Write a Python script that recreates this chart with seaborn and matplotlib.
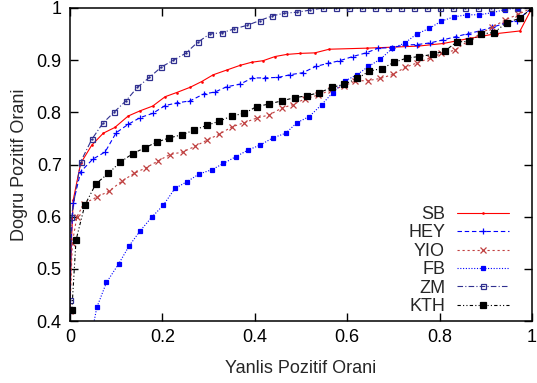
import numpy as np
import pandas as pd
import seaborn as sns
import matplotlib
matplotlib.use("Agg")
import matplotlib.pyplot as plt

sns.set_style("ticks")
plt.rcParams['font.family'] = ['Liberation Sans', 'DejaVu Sans']

# ROC points (false positive rate, true positive rate)
sb_x = [0.0, 0.003, 0.007, 0.023, 0.047, 0.072, 0.097, 0.126, 0.152, 0.179, 0.206, 0.231,
        0.260, 0.285, 0.310, 0.339, 0.368, 0.393, 0.418, 0.444, 0.469, 0.498, 0.530, 0.561,
        0.642, 0.700, 0.754, 0.808, 0.866, 0.924, 0.974, 1.0]
sb_y = [0.42, 0.55, 0.632, 0.702, 0.737, 0.760, 0.771, 0.793, 0.803, 0.812, 0.830, 0.838,
        0.848, 0.859, 0.872, 0.881, 0.890, 0.896, 0.899, 0.907, 0.911, 0.913, 0.914, 0.921,
        0.923, 0.925, 0.927, 0.932, 0.942, 0.951, 0.956, 1.0]

hey_x = [0.0, 0.002, 0.007, 0.023, 0.049, 0.076, 0.100, 0.126, 0.152, 0.179, 0.206, 0.231,
         0.260, 0.289, 0.314, 0.339, 0.368, 0.395, 0.422, 0.451, 0.476, 0.504, 0.532, 0.559,
         0.584, 0.612, 0.641, 0.667, 0.696, 0.725, 0.752, 0.779, 0.808, 0.835, 0.862, 0.887,
         0.914, 0.942, 0.967, 1.0]
hey_y = [0.42, 0.55, 0.626, 0.686, 0.710, 0.724, 0.761, 0.777, 0.790, 0.798, 0.813, 0.818,
         0.822, 0.835, 0.839, 0.849, 0.854, 0.866, 0.866, 0.867, 0.872, 0.876, 0.888, 0.894,
         0.899, 0.907, 0.914, 0.923, 0.924, 0.929, 0.930, 0.933, 0.939, 0.945, 0.951, 0.956,
         0.963, 0.971, 0.976, 1.0]

yio_x = [0.0, 0.005, 0.015, 0.030, 0.059, 0.085, 0.112, 0.139, 0.165, 0.191, 0.216, 0.244,
         0.271, 0.297, 0.323, 0.350, 0.377, 0.404, 0.431, 0.458, 0.483, 0.509, 0.537, 0.566,
         0.592, 0.617, 0.646, 0.672, 0.700, 0.725, 0.752, 0.779, 0.804, 0.833, 0.862, 0.887,
         0.913, 0.942, 0.970, 1.0]
yio_y = [0.42, 0.55, 0.60, 0.625, 0.638, 0.649, 0.668, 0.683, 0.694, 0.707, 0.719, 0.724,
         0.735, 0.747, 0.758, 0.772, 0.780, 0.789, 0.795, 0.808, 0.815, 0.826, 0.833, 0.843,
         0.850, 0.860, 0.861, 0.865, 0.873, 0.886, 0.895, 0.904, 0.913, 0.919, 0.937, 0.950,
         0.963, 0.977, 0.988, 1.0]

fb_x = [0.048, 0.058, 0.079, 0.105, 0.128, 0.152, 0.177, 0.202, 0.227, 0.253, 0.280, 0.307,
        0.332, 0.359, 0.386, 0.411, 0.439, 0.467, 0.491, 0.518, 0.545, 0.569, 0.595, 0.621,
        0.646, 0.672, 0.698, 0.725, 0.750, 0.778, 0.804, 0.831, 0.859, 0.886, 0.914, 0.942,
        0.970, 1.0]
fb_y = [0.38, 0.426, 0.474, 0.509, 0.544, 0.573, 0.599, 0.622, 0.654, 0.667, 0.682, 0.690,
        0.702, 0.715, 0.728, 0.737, 0.751, 0.760, 0.780, 0.792, 0.815, 0.838, 0.860, 0.872,
        0.888, 0.902, 0.923, 0.933, 0.950, 0.961, 0.975, 0.983, 0.987, 0.987, 0.991, 0.997,
        1.0, 1.0]

zm_x = [0.0, 0.003, 0.023, 0.047, 0.071, 0.095, 0.121, 0.146, 0.172, 0.198, 0.224, 0.250,
        0.276, 0.302, 0.330, 0.356, 0.384, 0.411, 0.438, 0.464, 0.492, 0.520, 0.548, 0.576,
        0.604, 0.632, 0.660, 0.688, 0.716, 0.744, 0.772, 0.800, 0.828, 0.856, 0.884, 0.912,
        0.940, 0.968, 1.0]
zm_y = [0.44, 0.60, 0.705, 0.748, 0.779, 0.800, 0.822, 0.848, 0.867, 0.887, 0.900, 0.913,
        0.934, 0.950, 0.953, 0.960, 0.967, 0.976, 0.985, 0.990, 0.992, 0.996, 1.0, 1.0,
        1.0, 1.0, 1.0, 1.0, 1.0, 1.0, 1.0, 1.0, 1.0, 1.0, 1.0, 1.0,
        1.0, 1.0, 1.0]

kth_x = [0.004, 0.013, 0.032, 0.056, 0.083, 0.108, 0.136, 0.162, 0.188, 0.215, 0.242, 0.269,
         0.296, 0.323, 0.350, 0.377, 0.404, 0.431, 0.458, 0.486, 0.514, 0.540, 0.568, 0.594,
         0.622, 0.648, 0.675, 0.702, 0.729, 0.756, 0.785, 0.812, 0.837, 0.864, 0.890, 0.918,
         0.945, 0.973, 1.0]
kth_y = [0.421, 0.555, 0.622, 0.663, 0.683, 0.704, 0.721, 0.732, 0.743, 0.751, 0.757, 0.766,
         0.775, 0.783, 0.793, 0.798, 0.811, 0.816, 0.822, 0.828, 0.832, 0.838, 0.848, 0.854,
         0.865, 0.879, 0.884, 0.896, 0.904, 0.907, 0.911, 0.918, 0.935, 0.936, 0.950, 0.953,
         0.972, 0.980, 1.0]

series = [
    ("SB", sb_x, sb_y, "#ff0000", "-", ".", 2, "#ff0000", "none"),
    ("HEY", hey_x, hey_y, "#0000ff", (0, (4, 2.5)), "+", 5, "#0000ff", "none"),
    ("YIO", yio_x, yio_y, "#c04040", (0, (2, 2.5)), "x", 4, "#c04040", "none"),
    ("FB", fb_x, fb_y, "#0000ff", (0, (1, 1.5)), "s", 3.2, "#0000ff", "#0000ff"),
    ("ZM", zm_x, zm_y, "#303090", (0, (5, 2, 1, 2)), "s", 3.6, "#303090", "none"),
    ("KTH", kth_x, kth_y, "#000000", (0, (3, 2, 1, 2, 1, 2)), "s", 4.2, "#000000", "#000000"),
]

fig = plt.figure(figsize=(5.37, 3.83), dpi=100)
ax = fig.add_axes([70 / 537, 1 - 321 / 383, 462 / 537, 313 / 383])

for name, xs, ys, col, ls, mk, ms, mec, mfc in series:
    df = pd.DataFrame({"x": xs, "y": ys})
    sns.lineplot(data=df, x="x", y="y", ax=ax, estimator=None, sort=False,
                 color=col, linestyle=ls, linewidth=0.8, marker=mk, markersize=ms,
                 markeredgecolor=mec, markerfacecolor=mfc, markeredgewidth=0.9,
                 label=name)

# small dot inside the open ZM squares
ax.plot(zm_x, zm_y, linestyle="none", marker=".", markersize=1.5, color="#303090")

ax.set_xlim(0, 1)
ax.set_ylim(0.4, 1)
ax.set_xticks([0, 0.2, 0.4, 0.6, 0.8, 1])
ax.set_xticklabels(["0", "0.2", "0.4", "0.6", "0.8", "1"])
ax.set_yticks([0.4, 0.5, 0.6, 0.7, 0.8, 0.9, 1])
ax.set_yticklabels(["0.4", "0.5", "0.6", "0.7", "0.8", "0.9", "1"])
ax.tick_params(direction="in", length=6, width=1, labelsize=13, top=True, right=True,
               colors="black", pad=6)
for s in ax.spines.values():
    s.set_linewidth(1.1)
    s.set_color("black")
ax.set_xlabel("Yanlis Pozitif Orani", fontsize=13, labelpad=10)
ax.set_ylabel("Dogru Pozitif Orani", fontsize=13, labelpad=6)

ax.legend(loc="lower right", frameon=False, markerfirst=False, fontsize=13,
          handlelength=2.9, handletextpad=0.65, labelspacing=0.08,
          borderaxespad=0.3, bbox_to_anchor=(0.978, -0.022))

fig.savefig("out.png", dpi=100)
